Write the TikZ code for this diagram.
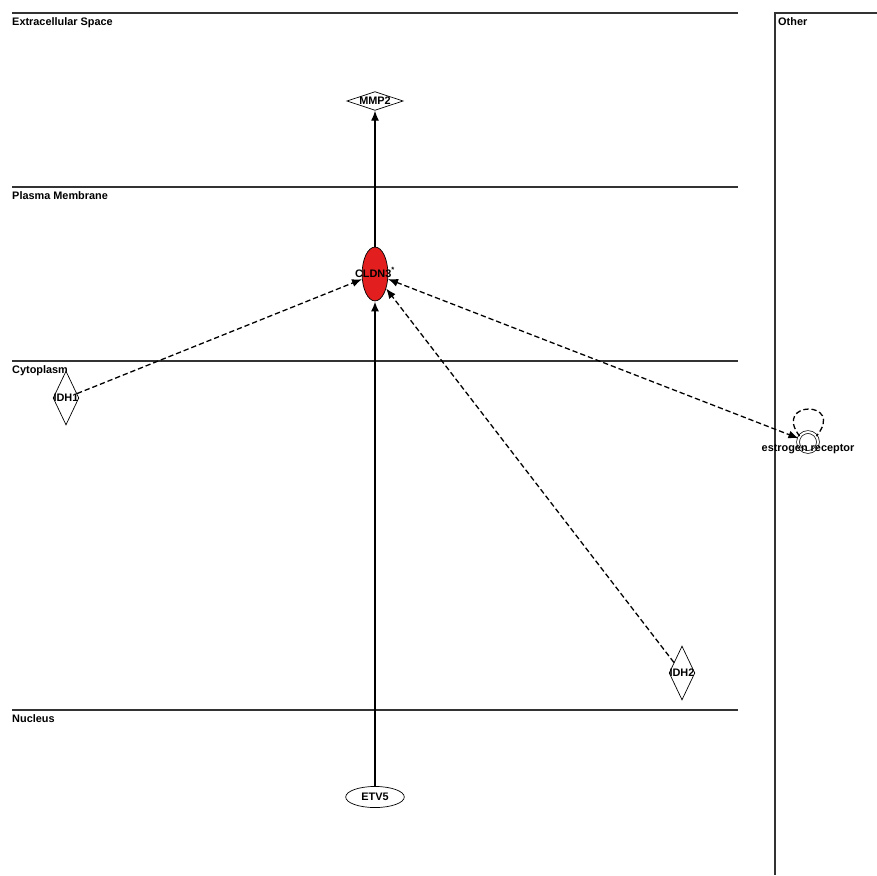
\documentclass[tikz,border=0pt]{standalone}
\usepackage{fontspec}
\setmainfont{Liberation Sans}
\usetikzlibrary{arrows.meta,shapes.geometric}
\definecolor{hitred}{RGB}{226,30,30}

\begin{document}
\begin{tikzpicture}[
  x=0.03cm,y=-0.03cm,
  font=\fontsize{9.3}{10}\selectfont\bfseries,
  >={Latex[length=3mm,width=2.4mm]},
  layer/.style={line width=0.9pt,black!80},
  layertxt/.style={anchor=north west,inner sep=0pt},
  gene/.style={draw,inner sep=0pt,line width=0.6pt,fill=white},
  dia/.style={gene,diamond},
  oval/.style={gene,ellipse},
  solidrel/.style={->,line width=1.1pt},
  dashrel/.style={->,line width=1.1pt,dash pattern=on 4.5pt off 2.5pt},
]
\useasboundingbox (0,0) rectangle (877,875);
% ---- compartments ----
\draw[layer] (12,13) -- (738,13);
\draw[layer] (12,187) -- (738,187);
\draw[layer] (12,361) -- (738,361);
\draw[layer] (12,710) -- (738,710);
\draw[layer] (877,13) -- (775,13) -- (775,875);
\node[layertxt] (lext) at (12,17) {Extracellular Space};
\node[layertxt] (lpm) at (12,191) {Plasma Membrane};
\node[layertxt] (lcyt) at (12,365) {Cytoplasm};
\node[layertxt] (lnuc) at (12,714) {Nucleus};
\node[layertxt] (loth) at (778,17) {Other};
% ---- molecules ----
\node[dia,minimum width=48,minimum height=16,label=center:MMP2] (mmp2) at (375,101) {};
\node[oval,fill=hitred,minimum width=22,minimum height=46,label={[yshift=1.5pt]center:CLDN3\textsuperscript{*}}] (cldn3) at (375,274) {};
\node[dia,minimum width=22,minimum height=46,label=center:IDH1] (idh1) at (66,398) {};
\node[dia,minimum width=22,minimum height=46,label=center:IDH2] (idh2) at (682,673) {};
\node[oval,minimum width=50,minimum height=18,label=center:ETV5] (etv5) at (375,797) {};
\node[circle,draw,double,double distance=1.8pt,line width=0.6pt,minimum size=17,inner sep=0pt,
  label={[yshift=-6pt]center:estrogen receptor}] (er) at (808,442) {};
% ---- relations ----
\draw[solidrel,line width=1.7pt] (etv5) -- (cldn3);
\draw[solidrel] (cldn3) -- (mmp2);
\draw[dashrel] (idh1) -- (cldn3);
\draw[dashrel] (idh2) -- (cldn3);
\draw[dashrel,<->] (cldn3) -- (er);
\draw[line width=1.1pt,dash pattern=on 4.5pt off 2.5pt] (er.145) .. controls (772,400) and (846,400) .. (er.35);
\end{tikzpicture}
\end{document}
